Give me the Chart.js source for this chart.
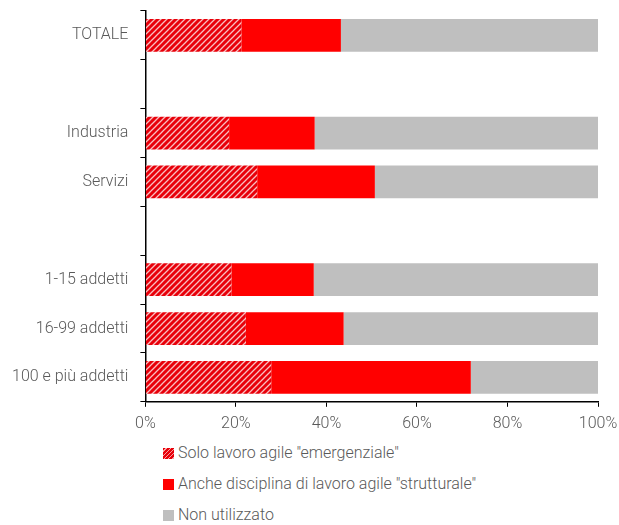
<!DOCTYPE html>
<html>
<head>
<meta charset="utf-8">
<script src="https://cdn.jsdelivr.net/npm/chart.js@4"></script>
<style>
  body { margin: 0; background: #fff; font-family: Roboto, sans-serif; }
  #wrap { position: relative; width: 619px; height: 442px; }
  #legend { margin: 0; padding: 0; list-style: none; position: absolute; left: 163px; top: 443px; }
  #legend li { line-height: 20px; font-size: 16px; font-weight: 300; color: #595959; display: flex; align-items: center; height: 20px; margin-bottom: 11px; }
  #legend span { display: inline-block; width: 11px; height: 11px; margin-right: 4px; }
</style>
</head>
<body>
<div id="wrap"><canvas id="chart"></canvas></div>
<ul id="legend"></ul>
<script>
const categories = ["TOTALE", "", "Industria", "Servizi", "", "1-15 addetti", "16-99 addetti", "100 e più addetti"];
const seriesNames = ['Solo lavoro agile "emergenziale"', 'Anche disciplina di lavoro agile "strutturale"', 'Non utilizzato'];
const emergenziale = [21.2, null, 18.5, 24.7, null, 19.0, 22.2, 27.8];
const strutturale = [22.0, null, 18.9, 26.0, null, 18.2, 21.6, 44.1];
const nonUtilizzato = [56.8, null, 62.6, 49.3, null, 62.8, 56.2, 28.1];
const xTicks = [0, 20, 40, 60, 80, 100];

// hatched fill for the first series
function makeHatch() {
    const c = document.createElement('canvas');
    c.width = 6; c.height = 6;
    const g = c.getContext('2d');
    g.fillStyle = '#e8000a';
    g.fillRect(0, 0, 6, 6);
    g.strokeStyle = 'rgba(255,255,255,0.75)';
    g.lineWidth = 1.3;
    g.beginPath();
    g.moveTo(-1, 7); g.lineTo(7, -1);
    g.moveTo(-4, 4); g.lineTo(4, -4);
    g.moveTo(2, 10); g.lineTo(10, 2);
    g.stroke();
    return g.createPattern(c, 'repeat');
}

const hatch = makeHatch();
const colors = [hatch, '#ff0000', '#bfbfbf'];
const legendColors = ['repeating-linear-gradient(135deg, #e8000a 0 2px, #f7a0a0 2px 3px)', '#ff0000', '#bfbfbf'];

Chart.defaults.font.family = 'Roboto';
Chart.defaults.font.weight = 300;
Chart.defaults.font.size = 16;
Chart.defaults.color = '#595959';

const ctx = document.getElementById('chart').getContext('2d');
const chart = new Chart(ctx, {
    type: 'bar',
    data: {
        labels: categories,
        datasets: [emergenziale, strutturale, nonUtilizzato].map((d, i) => ({
            label: seriesNames[i],
            data: d,
            backgroundColor: colors[i],
            borderWidth: 0,
            barPercentage: 0.67,
            categoryPercentage: 1
        }))
    },
    options: {
        indexAxis: 'y',
        responsive: true,
        maintainAspectRatio: false,
        animation: false,
        layout: { padding: { top: 11, right: 21, left: 0, bottom: 0 } },
        plugins: { legend: { display: false }, tooltip: { enabled: false } },
        scales: {
            x: {
                stacked: true,
                min: 0,
                max: 100,
                afterFit: s => { s.paddingLeft = 0; s.paddingRight = 0; },
                afterBuildTicks: axis => { axis.ticks = xTicks.map(v => ({ value: v })); },
                ticks: { callback: v => v + '%', padding: 8 },
                grid: { drawOnChartArea: false, drawTicks: true, tickLength: 5, color: '#000' },
                border: { color: '#000', width: 1.5 }
            },
            y: {
                stacked: true,
                afterFit: s => { s.paddingTop = 0; },
                ticks: { padding: 12 },
                grid: { drawOnChartArea: false, drawTicks: true, tickLength: 5, color: '#000', offset: true },
                border: { color: '#000', width: 1.5 }
            }
        }
    }
});

// legend in a single column, like the original
const ul = document.getElementById('legend');
seriesNames.forEach((name, i) => {
    const li = document.createElement('li');
    const box = document.createElement('span');
    box.style.background = legendColors[i];
    li.appendChild(box);
    li.appendChild(document.createTextNode(name));
    ul.appendChild(li);
});
</script>
</body>
</html>
